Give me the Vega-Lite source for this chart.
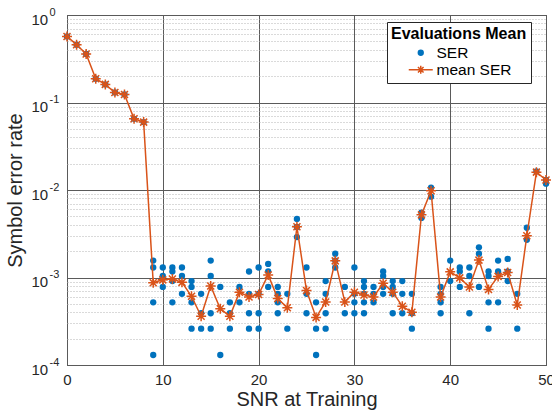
{
  "$schema": "https://vega.github.io/schema/vega-lite/v6.json",
  "width": 479,
  "height": 350,
  "autosize": {"type": "none"},
  "padding": {"left": 67, "top": 15, "right": 6, "bottom": 47},
  "background": "white",
  "config": {
    "font": "Liberation Sans",
    "view": {"stroke": "#262626", "strokeWidth": 1},
    "axis": {
      "labelFont": "Liberation Sans",
      "titleFont": "Liberation Sans",
      "labelColor": "#262626",
      "titleColor": "#262626",
      "labelFontSize": 15,
      "titleFontSize": 20,
      "titleFontWeight": "normal",
      "ticks": false,
      "domain": false
    }
  },
  "datasets": {
    "evals": [
      {"snr": 0, "ser": 0.569, "series": "SER"},
      {"snr": 1, "ser": 0.457, "series": "SER"},
      {"snr": 2, "ser": 0.358, "series": "SER"},
      {"snr": 3, "ser": 0.187, "series": "SER"},
      {"snr": 4, "ser": 0.161, "series": "SER"},
      {"snr": 5, "ser": 0.130, "series": "SER"},
      {"snr": 6, "ser": 0.1235, "series": "SER"},
      {"snr": 7, "ser": 0.0651, "series": "SER"},
      {"snr": 8, "ser": 0.0597, "series": "SER"},
      {"snr": 9, "ser": 0.00156, "series": "SER"},
      {"snr": 9, "ser": 0.0013, "series": "SER"},
      {"snr": 9, "ser": 0.00052, "series": "SER"},
      {"snr": 9, "ser": 0.00013, "series": "SER"},
      {"snr": 10, "ser": 0.0013, "series": "SER"},
      {"snr": 10, "ser": 0.00104, "series": "SER"},
      {"snr": 10, "ser": 0.00078, "series": "SER"},
      {"snr": 11, "ser": 0.0013, "series": "SER"},
      {"snr": 11, "ser": 0.00117, "series": "SER"},
      {"snr": 11, "ser": 0.00091, "series": "SER"},
      {"snr": 11, "ser": 0.00052, "series": "SER"},
      {"snr": 12, "ser": 0.0013, "series": "SER"},
      {"snr": 12, "ser": 0.00104, "series": "SER"},
      {"snr": 12, "ser": 0.00065, "series": "SER"},
      {"snr": 13, "ser": 0.00091, "series": "SER"},
      {"snr": 13, "ser": 0.00078, "series": "SER"},
      {"snr": 13, "ser": 0.00052, "series": "SER"},
      {"snr": 13, "ser": 0.00026, "series": "SER"},
      {"snr": 14, "ser": 0.00065, "series": "SER"},
      {"snr": 14, "ser": 0.00039, "series": "SER"},
      {"snr": 14, "ser": 0.00026, "series": "SER"},
      {"snr": 15, "ser": 0.00156, "series": "SER"},
      {"snr": 15, "ser": 0.00104, "series": "SER"},
      {"snr": 15, "ser": 0.00039, "series": "SER"},
      {"snr": 15, "ser": 0.00026, "series": "SER"},
      {"snr": 16, "ser": 0.00078, "series": "SER"},
      {"snr": 16, "ser": 0.00013, "series": "SER"},
      {"snr": 17, "ser": 0.00052, "series": "SER"},
      {"snr": 17, "ser": 0.00039, "series": "SER"},
      {"snr": 17, "ser": 0.00026, "series": "SER"},
      {"snr": 18, "ser": 0.00078, "series": "SER"},
      {"snr": 18, "ser": 0.00052, "series": "SER"},
      {"snr": 19, "ser": 0.00117, "series": "SER"},
      {"snr": 19, "ser": 0.00065, "series": "SER"},
      {"snr": 19, "ser": 0.00039, "series": "SER"},
      {"snr": 19, "ser": 0.00026, "series": "SER"},
      {"snr": 20, "ser": 0.0013, "series": "SER"},
      {"snr": 20, "ser": 0.00065, "series": "SER"},
      {"snr": 20, "ser": 0.00039, "series": "SER"},
      {"snr": 20, "ser": 0.00026, "series": "SER"},
      {"snr": 21, "ser": 0.00143, "series": "SER"},
      {"snr": 21, "ser": 0.00117, "series": "SER"},
      {"snr": 21, "ser": 0.00078, "series": "SER"},
      {"snr": 22, "ser": 0.00078, "series": "SER"},
      {"snr": 22, "ser": 0.00065, "series": "SER"},
      {"snr": 22, "ser": 0.00052, "series": "SER"},
      {"snr": 22, "ser": 0.00039, "series": "SER"},
      {"snr": 23, "ser": 0.00065, "series": "SER"},
      {"snr": 23, "ser": 0.00026, "series": "SER"},
      {"snr": 24, "ser": 0.00467, "series": "SER"},
      {"snr": 24, "ser": 0.00378, "series": "SER"},
      {"snr": 24, "ser": 0.0029, "series": "SER"},
      {"snr": 25, "ser": 0.0013, "series": "SER"},
      {"snr": 25, "ser": 0.00065, "series": "SER"},
      {"snr": 25, "ser": 0.00039, "series": "SER"},
      {"snr": 26, "ser": 0.00052, "series": "SER"},
      {"snr": 26, "ser": 0.00026, "series": "SER"},
      {"snr": 26, "ser": 0.00013, "series": "SER"},
      {"snr": 27, "ser": 0.00091, "series": "SER"},
      {"snr": 27, "ser": 0.00065, "series": "SER"},
      {"snr": 27, "ser": 0.00039, "series": "SER"},
      {"snr": 27, "ser": 0.00026, "series": "SER"},
      {"snr": 28, "ser": 0.00187, "series": "SER"},
      {"snr": 28, "ser": 0.00156, "series": "SER"},
      {"snr": 28, "ser": 0.0013, "series": "SER"},
      {"snr": 29, "ser": 0.00078, "series": "SER"},
      {"snr": 29, "ser": 0.00039, "series": "SER"},
      {"snr": 30, "ser": 0.0013, "series": "SER"},
      {"snr": 30, "ser": 0.00065, "series": "SER"},
      {"snr": 30, "ser": 0.00052, "series": "SER"},
      {"snr": 30, "ser": 0.00039, "series": "SER"},
      {"snr": 31, "ser": 0.00091, "series": "SER"},
      {"snr": 31, "ser": 0.00078, "series": "SER"},
      {"snr": 31, "ser": 0.00065, "series": "SER"},
      {"snr": 31, "ser": 0.00052, "series": "SER"},
      {"snr": 31, "ser": 0.00039, "series": "SER"},
      {"snr": 32, "ser": 0.00078, "series": "SER"},
      {"snr": 32, "ser": 0.00065, "series": "SER"},
      {"snr": 32, "ser": 0.00052, "series": "SER"},
      {"snr": 33, "ser": 0.00117, "series": "SER"},
      {"snr": 33, "ser": 0.00104, "series": "SER"},
      {"snr": 33, "ser": 0.00078, "series": "SER"},
      {"snr": 33, "ser": 0.00065, "series": "SER"},
      {"snr": 34, "ser": 0.00091, "series": "SER"},
      {"snr": 34, "ser": 0.00078, "series": "SER"},
      {"snr": 34, "ser": 0.00065, "series": "SER"},
      {"snr": 34, "ser": 0.00039, "series": "SER"},
      {"snr": 35, "ser": 0.00091, "series": "SER"},
      {"snr": 35, "ser": 0.00065, "series": "SER"},
      {"snr": 35, "ser": 0.00039, "series": "SER"},
      {"snr": 36, "ser": 0.00065, "series": "SER"},
      {"snr": 36, "ser": 0.00039, "series": "SER"},
      {"snr": 36, "ser": 0.00026, "series": "SER"},
      {"snr": 37, "ser": 0.0055, "series": "SER"},
      {"snr": 37, "ser": 0.0048, "series": "SER"},
      {"snr": 38, "ser": 0.0106, "series": "SER"},
      {"snr": 38, "ser": 0.0084, "series": "SER"},
      {"snr": 39, "ser": 0.00078, "series": "SER"},
      {"snr": 39, "ser": 0.00065, "series": "SER"},
      {"snr": 39, "ser": 0.00052, "series": "SER"},
      {"snr": 39, "ser": 0.00039, "series": "SER"},
      {"snr": 40, "ser": 0.00156, "series": "SER"},
      {"snr": 40, "ser": 0.00091, "series": "SER"},
      {"snr": 41, "ser": 0.0013, "series": "SER"},
      {"snr": 41, "ser": 0.00117, "series": "SER"},
      {"snr": 41, "ser": 0.00078, "series": "SER"},
      {"snr": 42, "ser": 0.0013, "series": "SER"},
      {"snr": 42, "ser": 0.00104, "series": "SER"},
      {"snr": 42, "ser": 0.00039, "series": "SER"},
      {"snr": 43, "ser": 0.00221, "series": "SER"},
      {"snr": 43, "ser": 0.00187, "series": "SER"},
      {"snr": 43, "ser": 0.00078, "series": "SER"},
      {"snr": 44, "ser": 0.00117, "series": "SER"},
      {"snr": 44, "ser": 0.00104, "series": "SER"},
      {"snr": 44, "ser": 0.00052, "series": "SER"},
      {"snr": 44, "ser": 0.00026, "series": "SER"},
      {"snr": 45, "ser": 0.00156, "series": "SER"},
      {"snr": 45, "ser": 0.00117, "series": "SER"},
      {"snr": 45, "ser": 0.00052, "series": "SER"},
      {"snr": 46, "ser": 0.00163, "series": "SER"},
      {"snr": 46, "ser": 0.00117, "series": "SER"},
      {"snr": 46, "ser": 0.00091, "series": "SER"},
      {"snr": 47, "ser": 0.00065, "series": "SER"},
      {"snr": 47, "ser": 0.00026, "series": "SER"},
      {"snr": 48, "ser": 0.0037, "series": "SER"},
      {"snr": 48, "ser": 0.0027, "series": "SER"},
      {"snr": 49, "ser": 0.0163, "series": "SER"},
      {"snr": 50, "ser": 0.013, "series": "SER"},
      {"snr": 50, "ser": 0.0118, "series": "SER"}
    ],
    "means": [
      {"snr": 0, "ser": 0.569, "series": "mean SER"},
      {"snr": 1, "ser": 0.457, "series": "mean SER"},
      {"snr": 2, "ser": 0.358, "series": "mean SER"},
      {"snr": 3, "ser": 0.187, "series": "mean SER"},
      {"snr": 4, "ser": 0.161, "series": "mean SER"},
      {"snr": 5, "ser": 0.130, "series": "mean SER"},
      {"snr": 6, "ser": 0.1235, "series": "mean SER"},
      {"snr": 7, "ser": 0.0651, "series": "mean SER"},
      {"snr": 8, "ser": 0.0597, "series": "mean SER"},
      {"snr": 9, "ser": 0.00087, "series": "mean SER"},
      {"snr": 10, "ser": 0.00094, "series": "mean SER"},
      {"snr": 11, "ser": 0.00096, "series": "mean SER"},
      {"snr": 12, "ser": 0.00088, "series": "mean SER"},
      {"snr": 13, "ser": 0.00061, "series": "mean SER"},
      {"snr": 14, "ser": 0.00036, "series": "mean SER"},
      {"snr": 15, "ser": 0.0008, "series": "mean SER"},
      {"snr": 16, "ser": 0.00044, "series": "mean SER"},
      {"snr": 17, "ser": 0.00036, "series": "mean SER"},
      {"snr": 18, "ser": 0.00068, "series": "mean SER"},
      {"snr": 19, "ser": 0.0006, "series": "mean SER"},
      {"snr": 20, "ser": 0.00064, "series": "mean SER"},
      {"snr": 21, "ser": 0.00107, "series": "mean SER"},
      {"snr": 22, "ser": 0.000575, "series": "mean SER"},
      {"snr": 23, "ser": 0.00045, "series": "mean SER"},
      {"snr": 24, "ser": 0.0038, "series": "mean SER"},
      {"snr": 25, "ser": 0.00071, "series": "mean SER"},
      {"snr": 26, "ser": 0.00035, "series": "mean SER"},
      {"snr": 27, "ser": 0.000525, "series": "mean SER"},
      {"snr": 28, "ser": 0.00155, "series": "mean SER"},
      {"snr": 29, "ser": 0.000525, "series": "mean SER"},
      {"snr": 30, "ser": 0.00068, "series": "mean SER"},
      {"snr": 31, "ser": 0.00063, "series": "mean SER"},
      {"snr": 32, "ser": 0.0006, "series": "mean SER"},
      {"snr": 33, "ser": 0.00086, "series": "mean SER"},
      {"snr": 34, "ser": 0.00068, "series": "mean SER"},
      {"snr": 35, "ser": 0.00047, "series": "mean SER"},
      {"snr": 36, "ser": 0.0004, "series": "mean SER"},
      {"snr": 37, "ser": 0.0052, "series": "mean SER"},
      {"snr": 38, "ser": 0.0098, "series": "mean SER"},
      {"snr": 39, "ser": 0.0006, "series": "mean SER"},
      {"snr": 40, "ser": 0.00116, "series": "mean SER"},
      {"snr": 41, "ser": 0.00099, "series": "mean SER"},
      {"snr": 42, "ser": 0.00078, "series": "mean SER"},
      {"snr": 43, "ser": 0.00158, "series": "mean SER"},
      {"snr": 44, "ser": 0.00073, "series": "mean SER"},
      {"snr": 45, "ser": 0.00103, "series": "mean SER"},
      {"snr": 46, "ser": 0.00114, "series": "mean SER"},
      {"snr": 47, "ser": 0.000485, "series": "mean SER"},
      {"snr": 48, "ser": 0.003, "series": "mean SER"},
      {"snr": 49, "ser": 0.016, "series": "mean SER"},
      {"snr": 50, "ser": 0.013, "series": "mean SER"}
    ]
  },
  "encoding": {
    "x": {
      "field": "snr",
      "type": "quantitative",
      "scale": {"domain": [0, 50], "nice": false, "zero": false},
      "axis": {
        "values": [0, 10, 20, 30, 40, 50],
        "title": "SNR at Training",
        "grid": true,
        "gridColor": "#5a5a5a",
        "gridWidth": 1,
        "labelFlush": false,
        "labelPadding": 7,
        "titlePadding": 2
      }
    },
    "color": {
      "field": "series",
      "type": "nominal",
      "scale": {"domain": ["SER", "mean SER"], "range": ["#0072BD", "#D95319"]},
      "legend": {
        "orient": "none",
        "legendX": 320,
        "legendY": 7,
        "title": "Evaluations Mean",
        "titleFont": "Liberation Sans",
        "titleFontSize": 16,
        "titleFontWeight": "bold",
        "titleColor": "#000000",
        "titlePadding": 3,
        "labelFont": "Liberation Sans",
        "labelFontSize": 15.5,
        "labelColor": "#000000",
        "labelOffset": 8,
        "symbolOffset": 22,
        "symbolSize": 144,
        "rowPadding": 0,
        "padding": 4,
        "strokeColor": "#262626",
        "fillColor": "white",
        "encode": {
          "symbols": {
            "update": {
              "shape": {"signal": "datum.value === 'SER' ? 'circle' : 'M-1.5,0H1.5M0,-0.5V0.5M-0.5,0H0.5M-0.35,-0.35L0.35,0.35M-0.35,0.35L0.35,-0.35'"},
              "size": {"signal": "datum.value === 'SER' ? 40 : 256"},
              "fill": {"signal": "datum.value === 'SER' ? '#0072BD' : 'transparent'"},
              "stroke": {"signal": "datum.value === 'SER' ? '#0072BD' : '#D95319'"},
              "strokeWidth": {"signal": "datum.value === 'SER' ? 0 : 1.5"},
              "opacity": {"value": 1}
            }
          }
        }
      }
    }
  },
  "layer": [
    {
      "data": {"name": "evals"},
      "mark": {"type": "point", "filled": true, "shape": "circle", "size": 40, "opacity": 1},
      "encoding": {
        "y": {
          "field": "ser",
          "type": "quantitative",
          "scale": {"type": "log", "domain": [0.0001, 1], "nice": false},
          "axis": {
            "orient": "left",
            "title": "Symbol error rate",
            "values": [0.0001, 0.0002, 0.0003, 0.0004, 0.0005, 0.0006, 0.0007, 0.0008, 0.0009,
                       0.001, 0.002, 0.003, 0.004, 0.005, 0.006, 0.007, 0.008, 0.009,
                       0.01, 0.02, 0.03, 0.04, 0.05, 0.06, 0.07, 0.08, 0.09,
                       0.1, 0.2, 0.3, 0.4, 0.5, 0.6, 0.7, 0.8, 0.9, 1],
            "labelOverlap": false,
            "labelAlign": "left",
            "labelPadding": 36,
            "labelOffset": 4,
            "titlePadding": 6,
            "labelExpr": "abs(log(datum.value)/LN10 - round(log(datum.value)/LN10)) < 1e-6 ? '10' : ''",
            "grid": true,
            "gridColor": {
              "condition": {"test": "abs(log(datum.value)/LN10 - round(log(datum.value)/LN10)) < 1e-6", "value": "#5a5a5a"},
              "value": "#b4b4b4"
            },
            "gridDash": {
              "condition": {"test": "abs(log(datum.value)/LN10 - round(log(datum.value)/LN10)) < 1e-6", "value": []},
              "value": [1, 2]
            }
          }
        }
      }
    },
    {
      "data": {"name": "means"},
      "mark": {"type": "line", "strokeWidth": 1.5},
      "encoding": {
        "y": {
          "field": "ser",
          "type": "quantitative",
          "axis": {
            "orient": "left",
            "title": null,
            "grid": false,
            "values": [0.0001, 0.001, 0.01, 0.1, 1],
            "labelOverlap": false,
            "labelAlign": "left",
            "labelPadding": 18,
            "labelOffset": -3,
            "labelFontSize": 11,
            "labelExpr": "datum.value >= 0.999 ? '0' : '-' + round(-log(datum.value)/LN10)"
          }
        }
      }
    },
    {
      "data": {"name": "means"},
      "mark": {
        "type": "point",
        "filled": false,
        "opacity": 1,
        "strokeWidth": 1.5,
        "size": 100,
        "shape": "M0,-1V1M-1,0H1M-0.7,-0.7L0.7,0.7M-0.7,0.7L0.7,-0.7"
      },
      "encoding": {
        "y": {"field": "ser", "type": "quantitative", "axis": null}
      }
    }
  ],
  "resolve": {"axis": {"y": "independent"}}
}
